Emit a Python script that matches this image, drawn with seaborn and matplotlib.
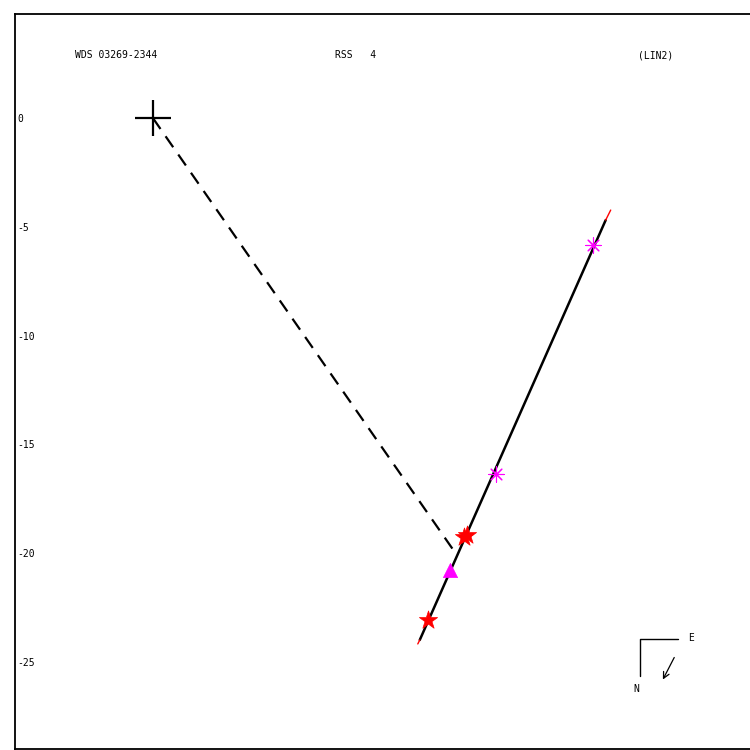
import matplotlib
matplotlib.use("Agg")
import matplotlib.pyplot as plt
import seaborn as sns

# ---- data (arcsec offsets) ----
title_left = "WDS 03269-2344"
title_mid = "RSS   4"
title_right = "(LIN2)"
ytick_values = [0, -5, -10, -15, -20, -25]
ytick_labels = ["0", "-5", "-10", "-15", "-20", "-25"]

fit_line_x = [12.27, 20.82]
fit_line_y = [-23.99, -4.69]
fit_ext_low_x = [12.18, 12.27]
fit_ext_low_y = [-24.17, -23.99]
fit_ext_high_x = [20.82, 21.05]
fit_ext_high_y = [-4.69, -4.23]

dash_x = [0.0, 14.0]
dash_y = [0.0, -20.12]

aster_x = [20.22, 15.76]
aster_y = [-5.84, -16.36]
star_x = [14.29, 14.43, 12.64]
star_y = [-19.26, -19.16, -23.07]
tri_x = [13.65]
tri_y = [-20.77]
primary_x = [0.0]
primary_y = [0.0]

sns.set_style("white")
plt.rcParams['font.family'] = ['DejaVu Sans Mono', 'DejaVu Sans']
plt.rcParams['text.color'] = 'black'
plt.rcParams['ytick.color'] = 'black'
plt.rcParams['ytick.labelcolor'] = 'black'

fig = plt.figure(figsize=(7.5, 7.5), dpi=100)
ax = fig.add_axes([0.02, 0.0013, 0.99, 0.98])

MAG = "#ff00ff"

sns.lineplot(x=dash_x, y=dash_y, ax=ax, color="black", lw=1.6, sort=False,
             estimator=None, linestyle=(0, (6, 4)))
sns.lineplot(x=fit_line_x, y=fit_line_y, ax=ax, color="black", lw=1.8,
             sort=False, estimator=None)
sns.lineplot(x=fit_ext_low_x, y=fit_ext_low_y, ax=ax, color="red", lw=1.0,
             sort=False, estimator=None)
sns.lineplot(x=fit_ext_high_x, y=fit_ext_high_y, ax=ax, color="red", lw=1.0,
             sort=False, estimator=None)

ax.plot(primary_x, primary_y, marker="+", ms=26, mew=1.6, color="black", ls="none")

sns.scatterplot(x=star_x, y=star_y, ax=ax, marker="*", s=190, color="red",
                edgecolor="red", linewidth=0.5, zorder=5)
sns.scatterplot(x=tri_x, y=tri_y, ax=ax, marker="^", s=105, color=MAG,
                edgecolor=MAG, linewidth=0.5, zorder=5)
sns.scatterplot(x=aster_x, y=aster_y, ax=ax, marker=(8, 2, 0), s=120,
                color=MAG, edgecolor=MAG, linewidth=0.8, zorder=5)

# compass
ax.plot([24.13, 22.38, 22.38], [-23.94, -23.94, -25.64], color="black", lw=1.0)
ax.annotate("", xy=(23.39, -25.92), xytext=(24.03, -24.68),
            arrowprops=dict(arrowstyle="->", color="black", lw=0.9,
                            mutation_scale=11))
ax.text(24.59, -23.9, "E", fontsize=7, ha="left", va="center", color="black")
ax.text(22.24, -26.24, "N", fontsize=7, ha="center", va="center", color="black")

ax.set_xlim(-6.34, 27.8)
ax.set_ylim(-29.0, 4.78)
ax.set_xticks([])
ax.set_yticks(ytick_values)
ax.set_yticklabels(ytick_labels, fontsize=7, color="black")
ax.tick_params(axis="y", direction="in", length=0, pad=-2)
for lab in ax.get_yticklabels():
    lab.set_horizontalalignment("left")
for sp in ax.spines.values():
    sp.set_linewidth(1.3)
    sp.set_color("black")

fig.text(75 / 750, 1 - 55 / 750, title_left, fontsize=7, ha="left", va="center", color="black")
fig.text(335 / 750, 1 - 55 / 750, title_mid, fontsize=7, ha="left", va="center", color="black")
fig.text(638 / 750, 1 - 55 / 750, title_right, fontsize=7, ha="left", va="center", color="black")

fig.savefig("out.png", dpi=100, facecolor="white")
